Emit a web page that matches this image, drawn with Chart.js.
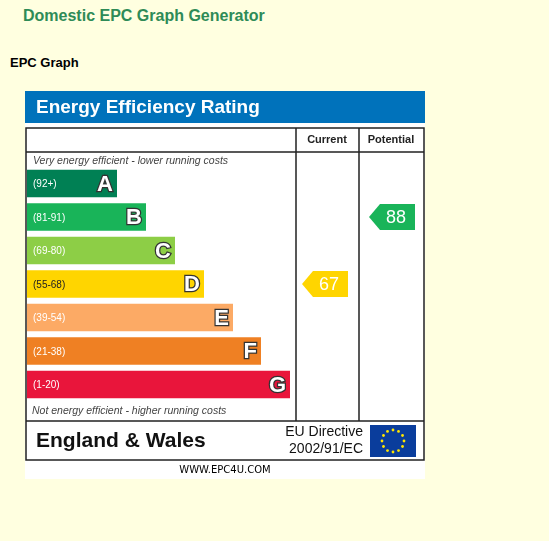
<!DOCTYPE html>
<html><head><meta charset="utf-8">
<script src="https://cdn.jsdelivr.net/npm/chart.js@4"></script>
<style>
body{margin:0;background:#ffffe0;font-family:"Liberation Sans",Arial,sans-serif;width:549px;height:541px;position:relative;overflow:hidden}
h1{position:absolute;left:23px;top:7px;margin:0;font-size:16px;color:#2e8b57;font-weight:bold}
h2{position:absolute;left:10px;top:55px;margin:0;font-size:13px;color:#000;font-weight:bold}
#wrap{position:absolute;left:25px;top:91px;width:400px;height:388px}
</style></head><body>
<h1>Domestic EPC Graph Generator</h1>
<h2>EPC Graph</h2>
<div id="wrap"><canvas id="chart" width="400" height="388"></canvas></div>
<script>
const bands=["A","B","C","D","E","F","G"]
const ranges=["(92+)","(81-91)","(69-80)","(55-68)","(39-54)","(21-38)","(1-20)"]
const bandLengths=[90,119,148,177,206,234,263]
const bandColors=["#008054","#19b459","#8dce46","#ffd500","#fcaa65","#ef8023","#e9153b"]
const currentScore=67
const potentialScore=88

function bandOf(s){
if(s>=92)return 0
if(s>=81)return 1
if(s>=69)return 2
if(s>=55)return 3
if(s>=39)return 4
if(s>=21)return 5
return 6
}

const frame={
id:"frame",
beforeDraw(c){
const g=c.ctx
g.save()
g.fillStyle="#fff";g.fillRect(0,0,400,388)
g.fillStyle="#0072bb";g.fillRect(0,0,400,32)
g.fillStyle="#fff";g.font="bold 19px 'Liberation Sans',Arial";g.textBaseline="middle"
g.fillText("Energy Efficiency Rating",11,17)
g.strokeStyle="#222";g.lineWidth=1.5
g.strokeRect(1,37,398,332)
g.beginPath()
g.moveTo(271,37);g.lineTo(271,330)
g.moveTo(334,37);g.lineTo(334,330)
g.moveTo(1,61);g.lineTo(399,61)
g.moveTo(1,330);g.lineTo(399,330)
g.stroke()
g.fillStyle="#222";g.font="bold 11px 'Liberation Sans',Arial";g.textAlign="center"
g.fillText("Current",302,49);g.fillText("Potential",366,49)
g.textAlign="left";g.font="italic 10.5px 'Liberation Sans',Arial";g.fillStyle="#444"
g.fillText("Very energy efficient - lower running costs",8,70)
g.fillText("Not energy efficient - higher running costs",7,320)
g.fillStyle="#111";g.font="bold 21px 'Liberation Sans',Arial"
g.fillText("England & Wales",11,350)
g.font="14px 'Liberation Sans',Arial";g.textAlign="right"
g.fillText("EU Directive",338,341);g.fillText("2002/91/EC",338,358)
g.fillStyle="#0a3d9c";g.fillRect(345,334,46,32)
g.fillStyle="#ffe600"
for(let i=0;i<12;i++){const a=i*Math.PI/6;g.beginPath();g.arc(368+11*Math.cos(a),350+11*Math.sin(a),1.4,0,7);g.fill()}
g.fillStyle="#000";g.font="10px 'DejaVu Sans',sans-serif";g.textAlign="center"
g.fillText("WWW.EPC4U.COM",200,379)
g.restore()
},
afterDatasetsDraw(c){
const g=c.ctx,y=c.scales.y,x=c.scales.x
g.save();g.textBaseline="middle"
bands.forEach((b,i)=>{
const yc=y.getPixelForValue(i),xe=x.getPixelForValue(bandLengths[i])
g.fillStyle=i==3?"#222":"#fff";g.font="10px 'Liberation Sans',Arial";g.textAlign="left"
g.fillText(ranges[i],8,yc+1)
g.font="bold 22px 'Liberation Sans',Arial";g.textAlign="right"
g.lineWidth=2.5;g.strokeStyle="#333";g.strokeText(b,xe-4,yc+1)
g.fillStyle="#fff";g.fillText(b,xe-4,yc+1)
})
function arrow(score,x0){
const i=bandOf(score),yc=y.getPixelForValue(i),h=13
g.fillStyle=bandColors[i]
g.beginPath();g.moveTo(x0,yc);g.lineTo(x0+11,yc-h);g.lineTo(x0+46,yc-h);g.lineTo(x0+46,yc+h);g.lineTo(x0+11,yc+h);g.closePath();g.fill()
g.fillStyle="#fff";g.font="18px 'Liberation Sans',Arial";g.textAlign="center"
g.fillText(score,x0+27,yc+1)
}
arrow(currentScore,277)
arrow(potentialScore,344)
g.restore()
}
}

new Chart(document.getElementById("chart"),{
type:"bar",
data:{labels:bands,datasets:[{data:bandLengths,backgroundColor:bandColors,barPercentage:0.82,categoryPercentage:1}]},
options:{
indexAxis:"y",responsive:false,animation:false,
layout:{padding:{left:2,right:129,top:75.75,bottom:77.75}},
plugins:{legend:{display:false},tooltip:{enabled:false}},
scales:{x:{display:false,min:0,max:269},y:{display:false}}
},
plugins:[frame]
})
</script>
</body></html>
